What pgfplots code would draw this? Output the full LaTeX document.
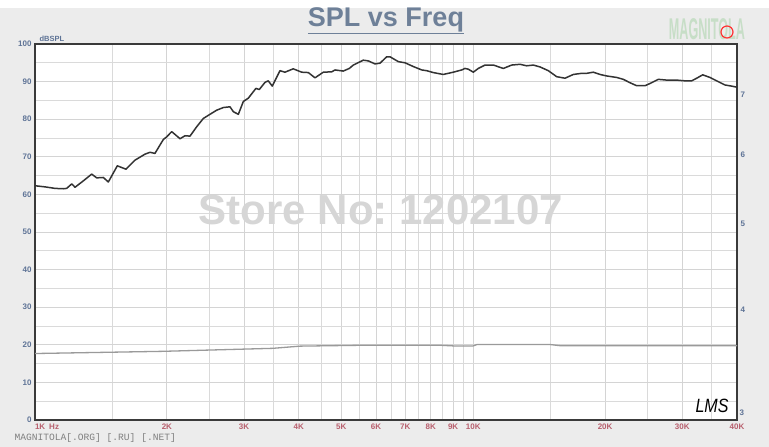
\documentclass[border=0pt]{standalone}
\usepackage{pgfplots}
\pgfplotsset{compat=1.18}
\usepackage{fontspec}
\setmainfont{Liberation Sans}
\setmonofont{Liberation Mono}
\definecolor{bgc}{HTML}{ECECEC}
\definecolor{gridc}{HTML}{D4D4D4}
\definecolor{axc}{HTML}{3A3A3A}
\definecolor{ylab}{HTML}{5E7396}
\definecolor{xlab}{HTML}{B8606E}
\definecolor{titc}{HTML}{6E8098}
\definecolor{curve}{HTML}{333333}
\definecolor{zc}{HTML}{9A9A9A}
\definecolor{wm}{HTML}{D6D6D6}
\begin{document}
\begin{tikzpicture}
\path[use as bounding box] (-35pt,-27pt) rectangle (734pt,420pt);
\fill[bgc] (-35pt,-27pt) rectangle (734pt,420pt);
\fill[white] (-35pt,412pt) rectangle (734pt,420pt);
\begin{axis}[
  scale only axis, width=702pt, height=376pt,
  xmode=log, xmin=1000, xmax=40000, ymin=0, ymax=100,
  xtick={1000,2000,3000,4000,5000,6000,7000,8000,9000,10000,20000,30000,40000},
  xticklabels={\makebox[0pt][l]{1K\hspace{4pt}Hz},2K,3K,4K,5K,6K,7K,8K,9K,10K,20K,30K,40K},
  minor xtick={1500,2500,3500,4500,5500,6500,7500,8500,9500,15000,25000,35000},
  ytick={0,10,...,100}, minor ytick={5,15,...,95},
  grid=both,
  major grid style={draw=gridc, line width=0.9pt},
  minor grid style={draw=gridc!85, line width=0.9pt},
  major tick length=0pt, minor tick length=0pt,
  axis line style={draw=axc, line width=1.6pt},
  axis background/.style={fill=white},
  /pgf/number format/assume math mode=true,
  xticklabel style={font=\bfseries\fontsize{8}{9}\selectfont, text=xlab},
  yticklabel style={font=\bfseries\fontsize{8}{9}\selectfont, text=ylab},
  clip=true,
]
\addplot[curve, line width=1.5pt, line join=round] coordinates {
(1000,62.3)(1054,62.0)(1111,61.6)(1160,61.5)(1181,61.6)(1213,62.8)(1234,61.9)(1289,63.6)(1347,65.4)(1383,64.4)(1432,64.5)(1470,63.3)(1541,67.6)(1613,66.7)(1691,69.1)(1782,70.7)(1830,71.2)(1878,70.9)(1963,74.6)(1998,75.3)(2051,76.7)(2143,74.8)(2199,75.6)(2258,75.5)(2339,78.0)(2422,80.2)(2508,81.3)(2598,82.4)(2690,83.1)(2786,83.3)(2835,82.0)(2911,81.3)(2988,84.7)(3068,85.6)(3193,88.2)(3250,87.9)(3349,89.8)(3407,90.2)(3479,88.8)(3623,92.9)(3719,92.5)(3885,93.4)(4060,92.5)(4205,92.4)(4355,91.0)(4549,92.5)(4755,92.6)(4837,93.1)(5052,92.8)(5215,93.5)(5326,94.4)(5614,95.7)(5764,95.5)(5970,94.7)(6129,94.9)(6348,96.6)(6459,96.6)(6749,95.3)(6991,95.0)(7301,94.0)(7630,93.1)(7833,92.9)(8110,92.4)(8545,91.9)(9006,92.5)(9414,93.1)(9579,93.5)(9745,93.3)(10005,92.5)(10271,93.5)(10639,94.4)(11116,94.4)(11716,93.5)(12242,94.4)(12790,94.6)(13248,94.2)(13717,94.4)(14206,93.9)(14841,92.9)(15510,91.3)(16202,90.9)(16925,91.9)(17689,92.2)(18155,92.2)(18798,92.5)(19471,91.9)(20167,91.5)(21261,91.1)(22007,90.6)(22794,89.7)(23612,88.9)(24667,88.9)(25322,89.5)(26450,90.6)(27645,90.4)(29132,90.4)(30434,90.2)(31518,90.2)(32363,90.9)(33400,91.8)(34707,91.1)(35950,90.2)(37551,89.1)(38897,88.8)(40000,88.5)
};
\end{axis}
\begin{axis}[
  scale only axis, width=702pt, height=376pt,
  xmode=log, xmin=1000, xmax=40000,
  ymode=log, ymin=3, ymax=8,
  axis x line=none, axis y line*=right,
  y axis line style={draw=none},
  ytick={4,5,6,7}, yticklabels={4,5,6,7},
  extra y ticks={3}, extra y tick labels={3},
  extra y tick style={yticklabel style={yshift=7pt, xshift=-1pt}},
  minor ytick={}, major tick length=0pt, minor tick length=0pt,
  /pgf/number format/assume math mode=true,
  yticklabel style={font=\bfseries\fontsize{8}{9}\selectfont, text=ylab},
]
\addplot[zc, line width=1.3pt] coordinates {
(1000,3.568)(1959,3.589)(3492,3.617)(4025,3.638)(5605,3.646)(8397,3.646)(9000,3.640)(10000,3.640)(10200,3.653)(14970,3.653)(15780,3.642)(40000,3.642)
};
\end{axis}
% texts
\node[font=\bfseries\fontsize{27}{29}\selectfont, text=titc] at (351pt,399pt) {\underline{SPL vs Freq}};
\node[font=\bfseries\fontsize{7.5}{8}\selectfont, text=ylab, anchor=west] at (1pt,381pt) {dBSPL};
\node[font=\bfseries\fontsize{42}{44}\selectfont, text=wm] at (346pt,210pt) {Store No:\hspace{-4pt} 1202107};
\node[font=\ttfamily\fontsize{9.6}{10}\selectfont, text=gray, anchor=west] at (-24pt,-18pt) {MAGNITOLA[.ORG] [.RU] [.NET]};
\node[font=\itshape\fontsize{16}{16}\selectfont, text=black] at (677pt,14pt) {\scalebox{1}[1.2]{LMS}};
\node[font=\bfseries\fontsize{30}{30}\selectfont, text=green!25!gray!35] at (672pt,391pt) {\scalebox{0.42}[1]{MAGNITOLA}};
\draw[red!80, line width=1.2pt] (692pt,388pt) circle (6pt);
\end{tikzpicture}
\end{document}
